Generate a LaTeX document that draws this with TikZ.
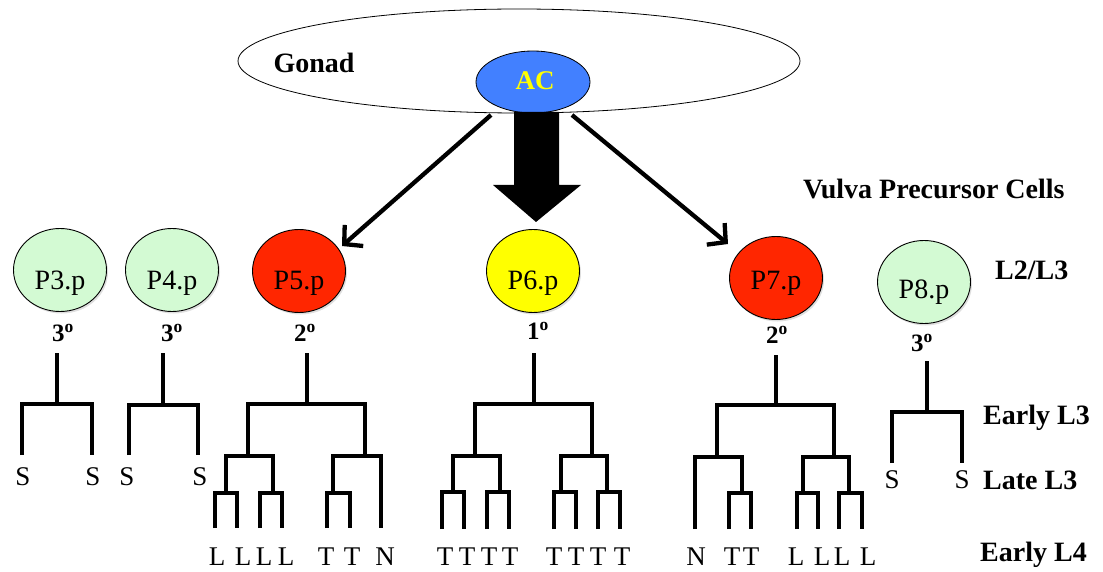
\documentclass[tikz,border=0pt]{standalone}
\usepackage{fontspec}
\setmainfont{Liberation Serif}
\usetikzlibrary{shapes.geometric, arrows.meta, shadows}
\definecolor{vgreen}{RGB}{211,250,211}
\definecolor{vred}{RGB}{255,38,0}
\definecolor{vyellow}{RGB}{255,255,0}
\definecolor{acblue}{RGB}{66,128,255}
\begin{document}
\begin{tikzpicture}[x=1pt,y=-1pt,
  cell/.style={ellipse, draw=black, line width=0.9pt, minimum width=93pt, minimum height=83pt, inner sep=0pt,
    drop shadow={shadow xshift=1.5pt,shadow yshift=-2pt,opacity=0.25}},
  celltext/.style={font=\fontsize{28}{30}\selectfont},
  fate/.style={font=\bfseries\fontsize{25}{27}\selectfont, inner sep=0pt},
  stage/.style={font=\bfseries\fontsize{28}{30}\selectfont, anchor=base west, inner sep=0pt},
  leaf/.style={font=\fontsize{27}{29}\selectfont, inner sep=0pt},
  tree/.style={line width=3.3pt, line join=miter},
  signal/.style={line width=4.3pt, -{Straight Barb[length=13pt,width=28pt]}}
]
\useasboundingbox (0,0) rectangle (1103,572);

% gonad and anchor cell
\node[ellipse, draw, line width=0.8pt, fill=white, minimum width=562pt, minimum height=104pt, inner sep=0pt] (gonad) at (519,61) {};
\node[font=\bfseries\fontsize{28}{30}\selectfont, inner sep=0pt] (gonadlbl) at (314,63) {Gonad};
\node[ellipse, draw, line width=0.8pt, fill=acblue, minimum width=114pt, minimum height=62pt, inner sep=0pt] (ac) at (533,82) {};
\node[font=\bfseries\fontsize{27}{29}\selectfont, text=vyellow, inner sep=0pt] (aclbl) at (535,81) {AC};

% signals
\fill (514,112) -- (559,112) -- (559,185) -- (581,185) -- (536,222) -- (493,185) -- (514,185) -- cycle;
\coordinate (sl) at (491,115);
\coordinate (tl) at (342,246);
\coordinate (sr) at (572,115);
\coordinate (tr) at (728,244);
\draw[signal] (sl) -- (tl);
\draw[signal] (sr) -- (tr);

% stage labels
\node[stage] (vpc) at (803,199) {Vulva Precursor Cells};
\node[stage] (l2l3) at (995,279) {L2/L3};
\node[stage] (el3) at (983,424) {Early L3};
\node[stage] (ll3) at (983,489) {Late L3};
\node[stage] (el4) at (980,561) {Early L4};

% cells
\node[cell, fill=vgreen, label={[celltext, yshift=-13pt]center:P3.p}] (p3) at (60,270) {};
\node[cell, fill=vgreen, label={[celltext, yshift=-13pt]center:P4.p}] (p4) at (172,270) {};
\node[cell, fill=vred, label={[celltext, yshift=-12pt]center:P5.p}] (p5) at (299,271) {};
\node[cell, fill=vyellow, label={[celltext, yshift=-12pt]center:P6.p}] (p6) at (533,271) {};
\node[cell, fill=vred, label={[celltext, yshift=-5pt]center:P7.p}] (p7) at (776,278) {};
\node[cell, fill=vgreen, label={[celltext, yshift=-10pt]center:P8.p}] (p8) at (924,282) {};

% fates
\node[fate] (f3) at (63,333) {3\textsuperscript{o}};
\node[fate] (f4) at (172,333) {3\textsuperscript{o}};
\node[fate] (f5) at (305,333) {2\textsuperscript{o}};
\node[fate] (f6) at (538,331) {1\textsuperscript{o}};
\node[fate] (f7) at (777,335) {2\textsuperscript{o}};
\node[fate] (f8) at (922,343) {3\textsuperscript{o}};

% P3 lineage
\draw[tree] (57,353) -- (57,404);
\draw[tree] (22,455) |- (92,404) -- (92,455);
% P4 lineage
\draw[tree] (163,353) -- (163,405);
\draw[tree] (129,455) |- (198,405) -- (198,455);
% P5 lineage
\draw[tree] (307,353) -- (307,404);
\draw[tree] (248,456) |- (365,404) -- (365,456);
\draw[tree] (226,493) |- (273,456) -- (273,493);
\draw[tree] (215,528) |- (237,493) -- (237,528);
\draw[tree] (260,528) |- (282,493) -- (282,528);
\draw[tree] (333,493) |- (381,456) -- (381,528);
\draw[tree] (327,528) |- (350,493) -- (350,528);
% P6 lineage
\draw[tree] (534,353) -- (534,404);
\draw[tree] (475,456) |- (592,404) -- (592,456);
\draw[tree] (453,492) |- (500,456) -- (500,492);
\draw[tree] (561,492) |- (607,456) -- (607,492);
\draw[tree] (442,529) |- (464,492) -- (464,529);
\draw[tree] (487,529) |- (509,492) -- (509,529);
\draw[tree] (554,529) |- (576,492) -- (576,529);
\draw[tree] (598,529) |- (620,492) -- (620,529);
% P7 lineage
\draw[tree] (776,355) -- (776,405);
\draw[tree] (717,457) |- (834,405) -- (834,457);
\draw[tree] (695,529) |- (742,457) -- (742,493);
\draw[tree] (729,529) |- (751,493) -- (751,529);
\draw[tree] (803,493) |- (849,457) -- (849,493);
\draw[tree] (797,529) |- (818,493) -- (818,529);
\draw[tree] (839,529) |- (862,493) -- (862,529);
% P8 lineage
\draw[tree] (927,361) -- (927,412);
\draw[tree] (892,463) |- (962,412) -- (962,463);

% daughters
\node[leaf] (s1) at (23,477) {S};
\node[leaf] (s2) at (93,477) {S};
\node[leaf] (s3) at (127,477) {S};
\node[leaf] (s4) at (200,477) {S};
\node[leaf] (s5) at (892,480) {S};
\node[leaf] (s6) at (962,480) {S};

\node[leaf] (a1) at (217,557) {L};
\node[leaf] (a2) at (243,557) {L};
\node[leaf] (a3) at (264,557) {L};
\node[leaf] (a4) at (286,557) {L};
\node[leaf] (a5) at (326,557) {T};
\node[leaf] (a6) at (352,557) {T};
\node[leaf] (a7) at (385,557) {N};

\node[leaf] (b1) at (445,557) {T};
\node[leaf] (b2) at (467,557) {T};
\node[leaf] (b3) at (489,557) {T};
\node[leaf] (b4) at (510,557) {T};
\node[leaf] (b5) at (554,557) {T};
\node[leaf] (b6) at (576,557) {T};
\node[leaf] (b7) at (598,557) {T};
\node[leaf] (b8) at (622,557) {T};

\node[leaf] (c1) at (696,557) {N};
\node[leaf] (c2) at (732,557) {T};
\node[leaf] (c3) at (751,557) {T};
\node[leaf] (c4) at (796,557) {L};
\node[leaf] (c5) at (822,557) {L};
\node[leaf] (c6) at (842,557) {L};
\node[leaf] (c7) at (868,557) {L};
\end{tikzpicture}
\end{document}
